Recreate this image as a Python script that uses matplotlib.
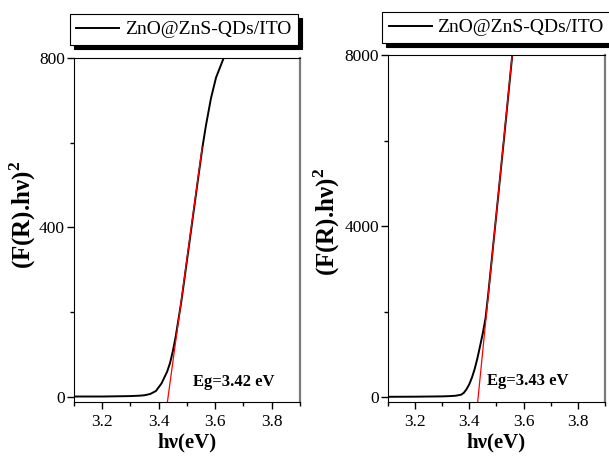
import numpy as np
import matplotlib
matplotlib.use('Agg')
import matplotlib.pyplot as plt
from matplotlib.ticker import MultipleLocator

##DATA##########################################################################
label = 'ZnO@ZnS-QDs/ITO'

# left panel
hv_a = [3.10, 3.20, 3.30, 3.333, 3.35, 3.37, 3.39, 3.41, 3.43, 3.44, 3.45, 3.46,
        3.48, 3.50, 3.52, 3.54, 3.555, 3.567, 3.585, 3.603, 3.63, 3.645]
f_a = [1, 1, 2, 3, 4, 7, 14, 32, 60, 80, 108, 142,
       225, 322, 420, 518, 590, 640, 705, 754, 800, 825]
fit_hv_a = [3.427, 3.554]
fit_f_a = [-30, 590]
eg_a = 'Eg=3.42 eV'

# right panel
hv_b = [3.10, 3.20, 3.30, 3.33, 3.35, 3.37, 3.38, 3.39, 3.40, 3.41, 3.42,
        3.43, 3.44, 3.45, 3.46, 3.47, 3.50, 3.53, 3.56, 3.57]
f_b = [5, 8, 15, 22, 30, 55, 100, 185, 300, 460, 660,
       910, 1200, 1500, 1850, 2420, 4290, 6170, 8100, 8700]
fit_hv_b = [3.428, 3.558]
fit_f_b = [-300, 8000]
eg_b = 'Eg=3.43 eV'
################################################################################

plt.rcParams['font.family'] = ['Liberation Serif', 'DejaVu Serif']
plt.rcParams['mathtext.fontset'] = 'custom'
plt.rcParams['mathtext.rm'] = 'Liberation Serif'
plt.rcParams['mathtext.bf'] = 'Liberation Serif:bold'

fig = plt.figure(figsize=(6.09, 4.63), dpi=100)
ax1 = fig.add_axes([0.1215, 0.1317, 0.371, 0.743])
ax2 = fig.add_axes([0.637, 0.1317, 0.3563, 0.7495])

ylabel = '(F(R).h\u03bd)$^{\\mathbf{2}}$'

def style(ax, ylim, ymaj, ymin_):
    ax.set_xlim(3.1, 3.9)
    ax.set_ylim(*ylim)
    ax.xaxis.set_major_locator(MultipleLocator(0.2))
    ax.xaxis.set_minor_locator(MultipleLocator(0.1))
    ax.yaxis.set_major_locator(MultipleLocator(ymaj))
    ax.yaxis.set_minor_locator(MultipleLocator(ymin_))
    ax.tick_params(which='both', direction='out', top=False, right=False,
                   labelsize=12.5, width=1)
    ax.tick_params(axis='y', which='both', pad=1.5)
    ax.tick_params(which='major', length=5)
    ax.tick_params(which='minor', length=3)
    ax.spines['right'].set_color('#7a7a7a')
    ax.spines['right'].set_linewidth(1.6)
    ax.set_xlabel('h\u03bd(eV)', fontsize=15, fontweight='bold', labelpad=2)
    ax.set_ylabel(ylabel, fontsize=18, fontweight='bold')

# left
ax1.plot(hv_a, f_a, color='k', lw=1.4, label=label)
ax1.plot(fit_hv_a, fit_f_a, color='red', lw=0.9)
style(ax1, (-12, 800), 400, 200)
ax1.text(3.52, 35, eg_a, fontsize=12, fontweight='bold', ha='left', va='center')
ax1.yaxis.set_label_coords(-0.16, 0.545)

# right
ax2.plot(hv_b, f_b, color='k', lw=1.4, label=label)
ax2.plot(fit_hv_b, fit_f_b, color='red', lw=0.9)
style(ax2, (-117, 8000), 4000, 2000)
ax2.text(3.467, 374, eg_b, fontsize=12, fontweight='bold', ha='left', va='center')
ax2.yaxis.set_label_coords(-0.21, 0.52)

for ax, cx, cy in [(ax1, 0.302, 0.936), (ax2, 0.815, 0.9406)]:
    leg = ax.legend(loc='center', bbox_to_anchor=(cx, cy), bbox_transform=fig.transFigure,
                    fontsize=14, frameon=True, fancybox=False, borderpad=0.35,
                    handlelength=2.2, handletextpad=0.3,
                    shadow={'color': 'k', 'alpha': 1, 'ox': 3, 'oy': -3})
    leg.get_frame().set_edgecolor('k')
    leg.get_frame().set_linewidth(0.8)

fig.savefig('out.png', dpi=100)
